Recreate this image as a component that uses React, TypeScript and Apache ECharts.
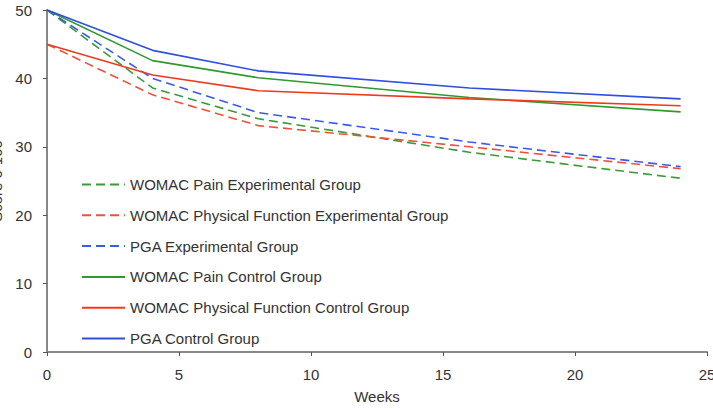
import React, { useEffect, useRef } from "react";
import * as echarts from "echarts";

const weeks = [0, 4, 8, 16, 24];
const painExp = [50, 38.6, 34.1, 29.2, 25.4];
const pfExp = [45, 37.6, 33.1, 30.0, 26.8];
const pgaExp = [50, 40.0, 35.0, 30.7, 27.1];
const painCtrl = [50, 42.6, 40.1, 37.2, 35.1];
const pfCtrl = [45, 40.5, 38.2, 37.0, 36.0];
const pgaCtrl = [50, 44.1, 41.1, 38.6, 37.0];

const seriesNames = [
  "WOMAC Pain Experimental Group",
  "WOMAC Physical Function Experimental Group",
  "PGA Experimental Group",
  "WOMAC Pain Control Group",
  "WOMAC Physical Function Control Group",
  "PGA Control Group",
];
const seriesValues = [painExp, pfExp, pgaExp, painCtrl, pfCtrl, pgaCtrl];
const seriesColors = ["#3a9a3a", "#f0503a", "#3a5ae8", "#2e9a2e", "#f03a1e", "#2e4fe0"];
const seriesDashed = [true, true, true, false, false, false];

export default function App() {
  const ref = useRef<HTMLDivElement>(null);
  useEffect(() => {
    if (!ref.current) return;
    const chart = echarts.init(ref.current, undefined, { renderer: "svg" });
    const font = "Liberation Sans, Arial, sans-serif";
    chart.setOption({
      animation: false,
      textStyle: { fontFamily: font },
      grid: { left: 47, right: 6, top: 10, bottom: 57, outerBoundsMode: "none", containLabel: false },
      legend: {
        orient: "vertical",
        left: 81,
        top: 177,
        padding: 0,
        itemWidth: 43,
        itemHeight: 16,
        itemGap: 15.8,
        itemStyle: { opacity: 0 },
        textStyle: { fontSize: 15, color: "#333", fontFamily: font },
        data: seriesNames,
      },
      xAxis: {
        type: "value",
        min: 0,
        max: 25,
        interval: 5,
        name: "Weeks",
        nameLocation: "middle",
        nameGap: 37,
        nameTextStyle: { fontSize: 15, color: "#333" },
        axisLine: { lineStyle: { color: "#888", width: 2 } },
        axisTick: { lineStyle: { color: "#555" }, length: 4 },
        axisLabel: { fontSize: 15, color: "#333", margin: 15 },
        splitLine: { show: false },
      },
      yAxis: {
        type: "value",
        min: 0,
        max: 50,
        interval: 10,
        name: "Score 0-100",
        nameLocation: "middle",
        nameGap: 38,
        nameTextStyle: { fontSize: 15, color: "#333" },
        axisLine: { show: true, lineStyle: { color: "#888", width: 2 } },
        axisTick: { show: true, lineStyle: { color: "#555" }, length: 4 },
        axisLabel: { fontSize: 15, color: "#333", margin: 15 },
        splitLine: { show: false },
      },
      series: seriesNames.map((name, i) => ({
        name,
        type: "line",
        symbol: "none",
        data: weeks.map((w, j) => [w, seriesValues[i][j]]),
        itemStyle: { color: seriesColors[i] },
        lineStyle: {
          color: seriesColors[i],
          width: 1.6,
          type: seriesDashed[i] ? [9, 5] : "solid",
        },
      })),
    });
    return () => chart.dispose();
  }, []);
  return <div ref={ref} style={{ width: 713, height: 409, position: "absolute", left: 0, top: 0 }} />;
}
